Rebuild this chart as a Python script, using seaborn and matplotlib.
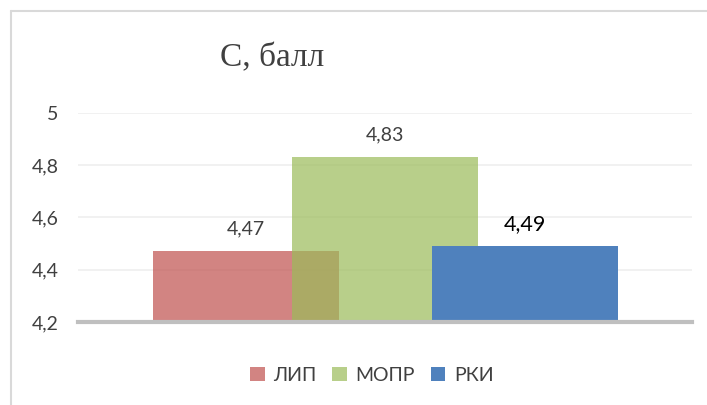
import numpy as np
import pandas as pd
import seaborn as sns
import matplotlib.pyplot as plt
from matplotlib.lines import Line2D

categories = ["ЛИП", "МОПР", "РКИ"]
values = [4.47, 4.83, 4.49]
value_labels = ["4,47", "4,83", "4,49"]
yticks = [4.2, 4.4, 4.6, 4.8, 5.0]
ytick_labels = ["4,2", "4,4", "4,6", "4,8", "5"]
colors = ["#C0504D", "#9BBB59", "#4F81BD"]
alphas = [0.7, 0.7, 1.0]

sns.set_style("white")
plt.rcParams["font.family"] = ["Lato", "DejaVu Sans"]

df = pd.DataFrame({"group": categories, "score": values})

fig = plt.figure(figsize=(7.07, 4.05), dpi=100)
ax = fig.add_axes([0.110, 0.205, 0.869, 0.516])

sns.barplot(data=df, x="group", y="score", hue="group", palette=colors,
            saturation=1, width=1.333, linewidth=0, legend=False, ax=ax)

bars = [p for p in ax.patches]
for p, a in zip(bars, alphas):
    p.set_alpha(a)

ax.set_ylim(4.2, 5.0)
ax.set_xlim(-1.204, 3.197)
ax.set_yticks(yticks)
ax.set_yticklabels(ytick_labels, fontsize=14, color="#404040")
ax.set_xticks([])
ax.set_xlabel("")
ax.set_ylabel("")
ax.tick_params(axis="y", length=0, pad=14)
ax.yaxis.grid(True, color="#efefef", linewidth=1.2)
ax.set_axisbelow(True)
for s in ["top", "right", "left"]:
    ax.spines[s].set_visible(False)
ax.spines["bottom"].set_color("#bfbfbf")
ax.spines["bottom"].set_linewidth(3)
ax.spines["bottom"].set_zorder(5)

# value labels
for i, (v, lab) in enumerate(zip(values, value_labels)):
    big = i == 2
    ax.annotate(lab, (i, v), xytext=(0, 16), textcoords="offset points",
                ha="center", va="center",
                fontsize=15.5 if big else 14,
                color="#000000" if big else "#404040")

fig.text(0.385, 0.857, "С, балл", ha="center", va="center",
         fontsize=24, color="#404040", family=["Liberation Serif", "DejaVu Serif"])

ax.legend(handles=bars, labels=categories, loc="center",
          bbox_to_anchor=(0.526, 0.074), bbox_transform=fig.transFigure,
          ncol=3, frameon=False, fontsize=14, handlelength=0.75,
          handleheight=0.75, handletextpad=0.45, columnspacing=0.8,
          labelcolor="#404040")

# chart frame (left and top edges)
fx, fy = 10.5 / 707, 1 - 10.5 / 405
fig.add_artist(Line2D([fx, fx], [0, fy], transform=fig.transFigure,
                      color="#d9d9d9", linewidth=1.5))
fig.add_artist(Line2D([fx, 1], [fy, fy], transform=fig.transFigure,
                      color="#d9d9d9", linewidth=1.5))

fig.savefig("out.png", dpi=100)
